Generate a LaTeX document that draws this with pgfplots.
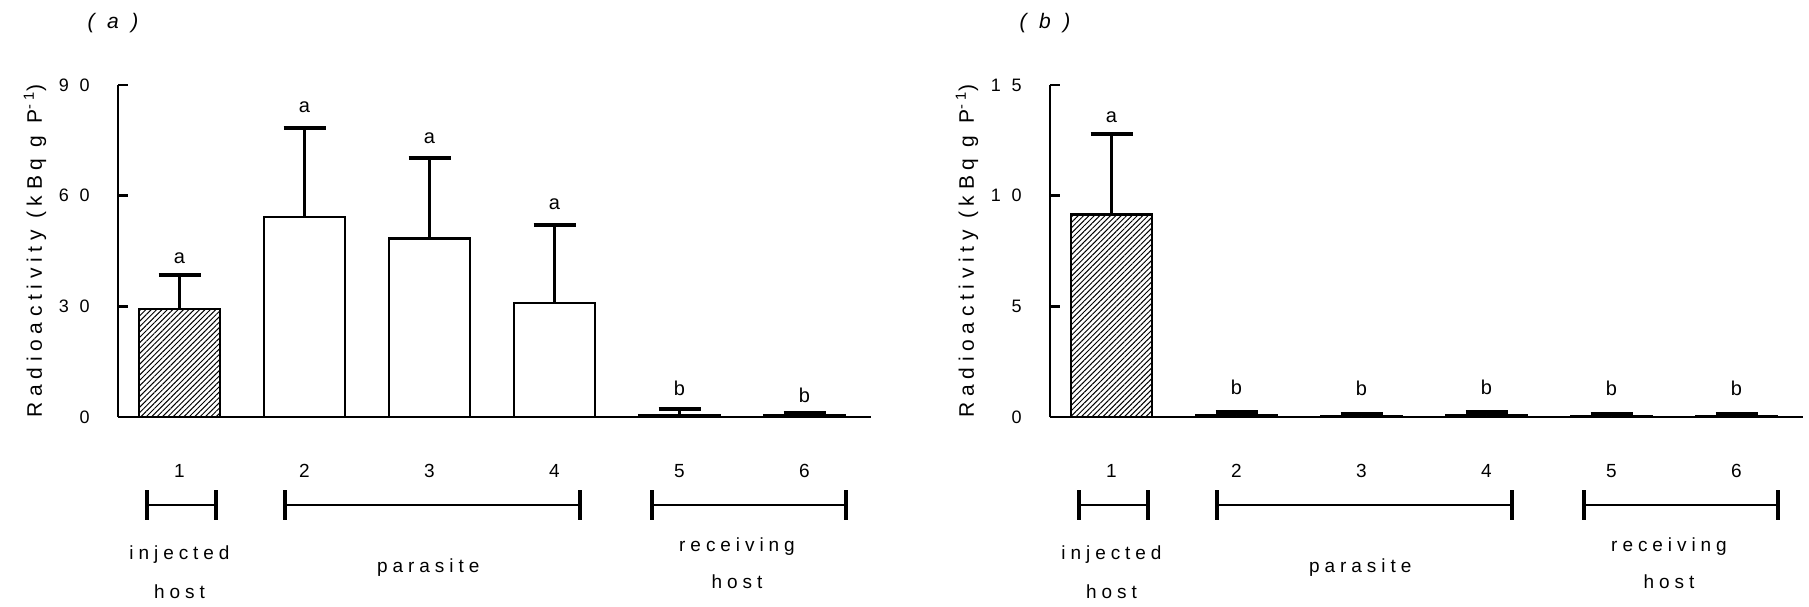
\documentclass[border=0pt]{standalone}
\usepackage{fontspec}
\setmainfont{Liberation Sans}
\newfontfamily\ylabfont[LetterSpace=27]{Liberation Sans}
\newfontfamily\tickfont[LetterSpace=60]{Liberation Sans}
\newfontfamily\grpfont[LetterSpace=26]{Liberation Sans}
\newfontfamily\titfont[LetterSpace=60]{Liberation Sans}
\usepackage{pgfplots}
\pgfplotsset{compat=1.18}
\usetikzlibrary{patterns.meta}

% group brackets under the x axis
\newcommand\grp[2]{%
  \draw[line width=1.4pt] ([yshift=-44pt]axis cs:#1,0) -- ([yshift=-44pt]axis cs:#2,0);
  \draw[line width=1.8pt] ([yshift=-36.5pt]axis cs:#1,0) -- ([yshift=-51.5pt]axis cs:#1,0);
  \draw[line width=1.8pt] ([yshift=-36.5pt]axis cs:#2,0) -- ([yshift=-51.5pt]axis cs:#2,0);}

\tikzset{
  lab/.style={font=\fontsize{10}{11}\selectfont},
  grplab/.style={font=\grpfont\fontsize{9.5}{11}\selectfont},
}
\pgfplotsset{
  panel/.style={
    scale only axis, width=376.5pt, height=166pt,
    anchor=south west,
    xmin=0.508, xmax=6.532, ymin=0,
    axis lines=left, axis line style={-, line width=1.4pt},
    xtick={1,...,6}, xticklabels={1,2,3,4,5,6},
    x tick style={draw=none},
    xticklabel style={anchor=center, yshift=-22pt, font=\fontsize{9.5}{11}\selectfont},
    tick align=inside, major tick length=5pt,
    y tick style={line width=1.4pt, black},
    yticklabel style={anchor=east, inner sep=0pt, xshift=-14pt, font=\tickfont\fontsize{9}{10}\selectfont},
    ylabel={Radioactivity (kBq g P\textsuperscript{-1})},
    ylabel style={at={(axis description cs:-0.1102,0.5)}, anchor=center, font=\ylabfont\fontsize{10.5}{12}\selectfont},
    title style={at={(axis description cs:-0.0066,1)}, anchor=center, yshift=25pt, font=\titfont\itshape\fontsize{10.5}{12}\selectfont},
    clip=false,
    ybar, bar width=0.648,
  },
  bars/.style={bar shift=0pt, draw=black, line width=1.4pt,
    error bars/y dir=plus, error bars/y explicit,
    error bars/error bar style={line width=1.3pt},
    error bars/error mark options={rotate=90, mark size=10.5pt, line width=1.9pt}},
}

\begin{document}
\begin{tikzpicture}
\path[use as bounding box] (0,0) rectangle (904.5pt,303pt);

% ---------- (a)
\begin{axis}[panel, at={(59pt,94.5pt)}, ymax=90, ytick={0,30,60,90}, yticklabels={0,30,60,90}, title={(a)}]
\addplot[bars, pattern={Lines[angle=45,distance=1.9pt,line width=0.5pt]}]
  coordinates {(1,29.3) +- (0,9.2)};
\addplot[bars, fill=white]
  coordinates {(2,54.2) +- (0,24.1) (3,48.5) +- (0,21.7) (4,30.9) +- (0,21.1)
               (5,0.5) +- (0,1.7) (6,0.4) +- (0,0.7)};
\node[lab] at ([yshift=8.5pt]axis cs:1,38.5) {a};
\node[lab] at ([yshift=10.5pt]axis cs:2,78.3) {a};
\node[lab] at ([yshift=10pt]axis cs:3,70.2) {a};
\node[lab] at ([yshift=10.5pt]axis cs:4,52.0) {a};
\node[lab] at ([yshift=10.5pt]axis cs:5,2.2) {b};
\node[lab] at ([yshift=9pt]axis cs:6,1.1) {b};
\grp{0.74}{1.29}\grp{1.844}{4.204}\grp{4.78}{6.332}
\node[grplab] at ([yshift=-69pt]axis cs:1,0) {injected};
\node[grplab] at ([yshift=-87.5pt]axis cs:1,0) {host};
\node[grplab] at ([yshift=-75.5pt]axis cs:2.99,0) {parasite};
\node[grplab] at ([yshift=-65pt]axis cs:5.46,0) {receiving};
\node[grplab] at ([yshift=-82.5pt]axis cs:5.46,0) {host};
\end{axis}

% ---------- (b)
\begin{axis}[panel, at={(525pt,94.5pt)}, ymax=15, ytick={0,5,10,15}, yticklabels={0,5,10,15}, title={(b)}]
\addplot[bars, pattern={Lines[angle=45,distance=1.9pt,line width=0.5pt]}]
  coordinates {(1,9.15) +- (0,3.65)};
\addplot[bars, fill=white]
  coordinates {(2,0.08) +- (0,0.14) (3,0.04) +- (0,0.09) (4,0.08) +- (0,0.14)
               (5,0.04) +- (0,0.09) (6,0.04) +- (0,0.09)};
\node[lab] at ([yshift=8pt]axis cs:1,12.8) {a};
\node[lab] at ([yshift=15pt]axis cs:2,0) {b};
\node[lab] at ([yshift=14.5pt]axis cs:3,0) {b};
\node[lab] at ([yshift=15pt]axis cs:4,0) {b};
\node[lab] at ([yshift=14.5pt]axis cs:5,0) {b};
\node[lab] at ([yshift=14.5pt]axis cs:6,0) {b};
\grp{0.74}{1.29}\grp{1.844}{4.204}\grp{4.78}{6.332}
\node[grplab] at ([yshift=-69pt]axis cs:1,0) {injected};
\node[grplab] at ([yshift=-87.5pt]axis cs:1,0) {host};
\node[grplab] at ([yshift=-75.5pt]axis cs:2.99,0) {parasite};
\node[grplab] at ([yshift=-65pt]axis cs:5.46,0) {receiving};
\node[grplab] at ([yshift=-82.5pt]axis cs:5.46,0) {host};
\end{axis}
\end{tikzpicture}
\end{document}
